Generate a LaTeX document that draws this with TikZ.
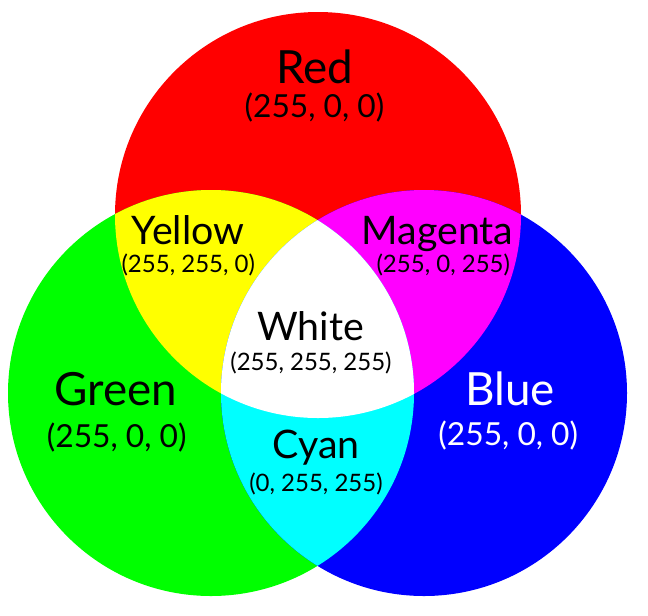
\documentclass[tikz,border=0pt]{standalone}
\usepackage{fontspec}
\setmainfont{Lato}
\definecolor{rgbred}{RGB}{255,0,0}
\definecolor{rgbgreen}{RGB}{0,255,0}
\definecolor{rgbblue}{RGB}{0,0,255}
\definecolor{rgbyellow}{RGB}{255,255,0}
\definecolor{rgbmagenta}{RGB}{255,0,255}
\definecolor{rgbcyan}{RGB}{0,255,255}
\begin{document}
\begin{tikzpicture}[x=0.75pt,y=-0.75pt,
  biglabel/.style={anchor=base,inner sep=0pt,font=\fontsize{34.3}{40}\selectfont},
  bignum/.style={anchor=base,inner sep=0pt,font=\fontsize{23.8}{29}\selectfont},
  midlabel/.style={anchor=base,inner sep=0pt,font=\fontsize{29.5}{35}\selectfont},
  smallnum/.style={anchor=base,inner sep=0pt,font=\fontsize{18}{22}\selectfont}]
\useasboundingbox (0,0) rectangle (648,615);
\def\rad{152.25pt}
\coordinate (R) at (318,215);
\coordinate (G) at (211,393);
\coordinate (B) at (424,393);
% primary discs
\fill[rgbred] (R) circle[radius=\rad];
\fill[rgbgreen] (G) circle[radius=\rad];
\fill[rgbblue] (B) circle[radius=\rad];
% pairwise overlaps
\begin{scope}
  \clip (R) circle[radius=\rad];
  \fill[rgbyellow] (G) circle[radius=\rad];
  \fill[rgbmagenta] (B) circle[radius=\rad];
\end{scope}
\begin{scope}
  \clip (G) circle[radius=\rad];
  \fill[rgbcyan] (B) circle[radius=\rad];
  \clip (B) circle[radius=\rad];
  \fill[white] (R) circle[radius=\rad];
\end{scope}
% labels
\node[biglabel] (redname) at (315,83) {Red};
\node[bignum] (redval) at (314.5,117) {(255, 0, 0)};
\node[midlabel] (yelname) at (188,244) {Yellow};
\node[smallnum] (yelval) at (188.3,272) {(255, 255, 0)};
\node[midlabel] (magname) at (437.5,244) {Magenta};
\node[smallnum] (magval) at (443.3,272.5) {(255, 0, 255)};
\node[midlabel] (whiname) at (310.6,340) {White};
\node[smallnum] (whival) at (311,370.5) {(255, 255, 255)};
\node[biglabel] (grename) at (116,405) {Green};
\node[bignum] (greval) at (116.7,447) {(255, 0, 0)};
\node[biglabel,text=white] (bluname) at (510,405) {Blue};
\node[bignum,text=white] (bluval) at (508.3,445) {(255, 0, 0)};
\node[midlabel] (cyaname) at (316,458) {Cyan};
\node[smallnum] (cyaval) at (316,491.5) {(0, 255, 255)};
\end{tikzpicture}
\end{document}
